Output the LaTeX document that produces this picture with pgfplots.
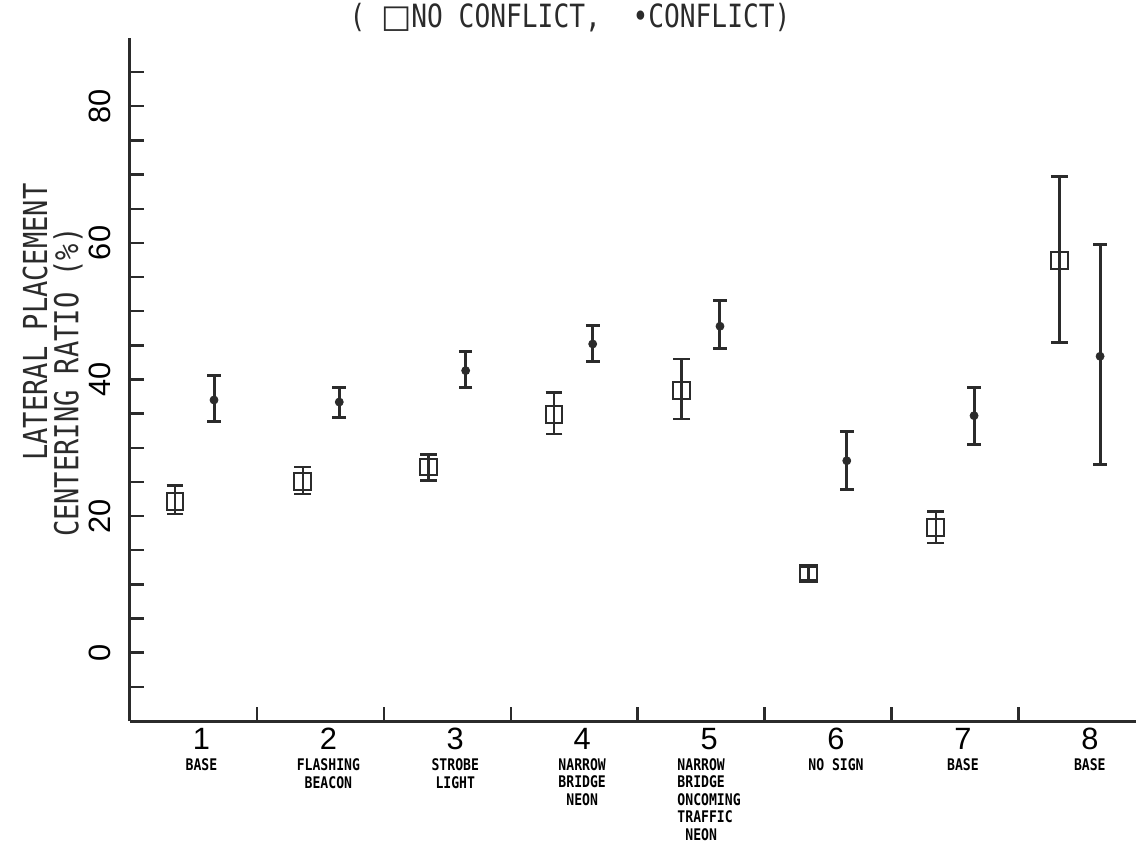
\documentclass[border=0pt]{standalone}
\usepackage{fontspec}
\setmainfont{Liberation Sans}
\newfontfamily\tyf[FakeStretch=0.82]{DejaVu Sans Mono}
\newfontfamily\djv{DejaVu Sans}
\usepackage{pgfplots}
\pgfplotsset{compat=1.18}
\definecolor{ink}{HTML}{2B2B2B}
\newcommand\numf{\fontsize{15.4}{16}\selectfont}
\newcommand\lblf{\tyf\bfseries\fontsize{8}{8.75}\selectfont}
\newcommand\xl[2]{{\numf #1}\\[-1.5pt]{\lblf\begin{tabular}[t]{@{}c@{}}#2\end{tabular}}}
\newcommand\xll[2]{{\numf #1}\\[-1.5pt]{\lblf\begin{tabular}[t]{@{}l@{}}#2\end{tabular}}}
\pgfplotstableread{
x y ep em
0.855 22.1 2.4 1.8
1.861 25.1 2.1 1.9
2.851 27.2 1.8 2.0
3.841 34.9 3.2 2.9
4.847 38.4 4.6 4.2
5.845 11.6 1.0 1.0
6.849 18.3 2.4 2.2
7.823 57.4 12.3 12.0
}\noconf
\pgfplotstableread{
x y ep em
1.162 37.0 3.6 3.1
2.149 36.7 2.1 2.3
3.145 41.3 2.8 2.5
4.146 45.2 2.7 2.6
5.149 47.8 3.7 3.2
6.148 28.1 4.3 4.2
7.151 34.7 4.1 4.2
8.144 43.4 16.3 15.9
}\conf
\begin{document}
\begin{tikzpicture}
\begin{axis}[
  scale only axis, width=503pt, height=341.5pt,
  xmin=0.5, xmax=8.427, ymin=-10, ymax=90,
  axis x line*=bottom, axis y line*=left,
  axis line style={ink, line width=1.5pt},
  tick align=inside,
  every tick/.style={ink, line width=1.2pt},
  major tick length=7pt, minor tick length=7pt,
  ytick={0,20,...,80},
  minor ytick={-5,0,...,85},
  xtick={1.5,2.5,...,7.5}, xticklabels={},
  /pgf/number format/assume math mode=true,
  yticklabel style={font=\numf, xshift=-9.5pt, rotate=90, anchor=base},
  extra x ticks={1,2,...,8},
  extra x tick labels={
    {\xl{1}{BASE}},
    {\xl{2}{FLASHING\\BEACON}},
    {\xl{3}{STROBE\\LIGHT}},
    {\xl{4}{NARROW\\BRIDGE\\NEON}},
    {\xll{5}{NARROW\\BRIDGE\\ONCOMING\\TRAFFIC\\\ NEON}},
    {\xl{6}{NO SIGN}},
    {\xl{7}{BASE}},
    {\xl{8}{BASE}}},
  extra x tick style={major tick length=0pt, tick style={draw=none},
    xticklabel style={align=center, anchor=north, xshift=4pt}},
  clip=false,
]
\addplot[ink, only marks, mark=square, mark size=4.2pt,
  mark options={line width=1pt, solid},
  error bars/.cd, y dir=both, y explicit,
  error bar style={ink, line width=1.2pt},
  error mark options={rotate=90, ink, mark size=4.2pt, line width=1.2pt}]
  table[x=x, y=y, y error plus=ep, y error minus=em] {\noconf};
\addplot[ink, only marks, mark=*, mark size=2pt,
  error bars/.cd, y dir=both, y explicit,
  error bar style={ink, line width=1.5pt},
  error mark options={rotate=90, ink, mark size=3.4pt, line width=1.5pt}]
  table[x=x, y=y, y error plus=ep, y error minus=em] {\conf};
\coordinate (bl) at (rel axis cs:0,0);
\coordinate (tr) at (rel axis cs:1,1);
\node[font=\tyf\fontsize{16}{18}\selectfont, text=ink] at ([yshift=10pt]rel axis cs:0.4374,1) {( {\djv □}NO CONFLICT,\ \ •CONFLICT)};
\node[font=\tyf\fontsize{16.5}{18}\selectfont, text=ink, rotate=90] at ([xshift=-47.5pt]rel axis cs:0,0.584) {LATERAL PLACEMENT};
\node[font=\tyf\fontsize{16.5}{18}\selectfont, text=ink, rotate=90] at ([xshift=-31pt]rel axis cs:0,0.496) {CENTERING RATIO (\%)};
\end{axis}
\pgfresetboundingbox
\path[use as bounding box] ([xshift=-65pt,yshift=-61.5pt]bl) rectangle ([yshift=19pt]tr);
\end{tikzpicture}
\end{document}
